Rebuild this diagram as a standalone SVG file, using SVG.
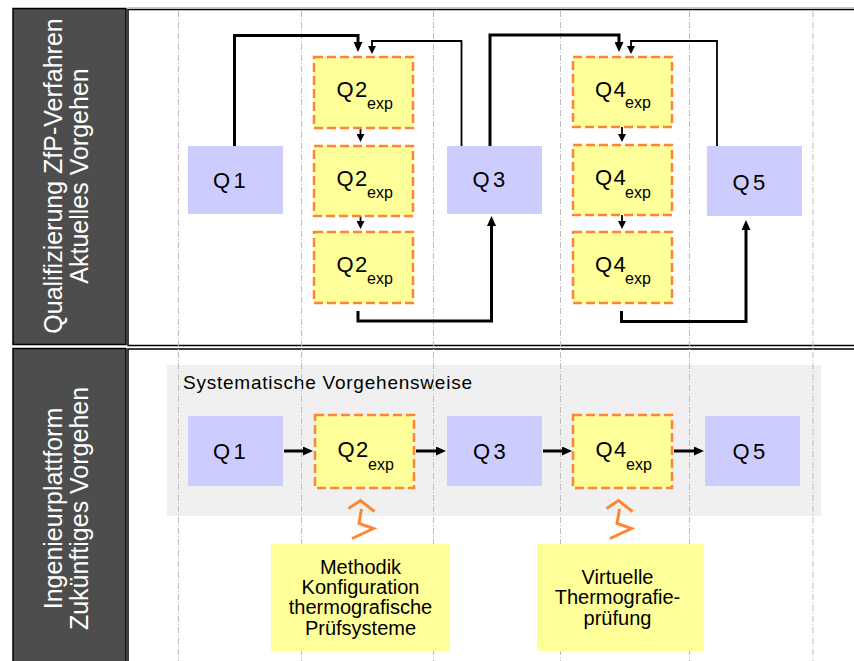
<svg xmlns="http://www.w3.org/2000/svg" width="854" height="661" viewBox="0 0 854 661">
<style>
text{font-family:"Liberation Sans",Arial,sans-serif;fill:#000}
.lab{fill:#fff;font-size:25px;text-anchor:middle}
.q{font-size:22px;letter-spacing:3.5px}
.qe{font-size:22px;letter-spacing:1.5px}
.e{font-size:16px}
.note{font-size:20px;text-anchor:middle}
.blue{fill:#ccccff}
.exp{fill:#ffff99;stroke:#ff8533;stroke-width:2.5;stroke-dasharray:9 4}
.yel{fill:#ffff99}
.grid{stroke:#bdbdbd;stroke-width:1;stroke-dasharray:6 2 1 2;fill:none}
.thick{stroke:#000;stroke-width:3;fill:none;marker-end:url(#ah)}
.thin{stroke:#000;stroke-width:1.8;fill:none;marker-end:url(#as)}
.bolt{stroke:#ff8533;stroke-width:3;fill:none}
</style>
<defs>
<marker id="ah" markerUnits="userSpaceOnUse" markerWidth="10" markerHeight="9" refX="3" refY="4.5" orient="auto"><path d="M0,0 L10,4.5 L0,9 z" fill="#000"/></marker>
<marker id="as" markerUnits="userSpaceOnUse" markerWidth="8" markerHeight="8" refX="2" refY="4" orient="auto"><path d="M0,0 L8,4 L0,8 z" fill="#000"/></marker>
</defs>
<rect x="0" y="0" width="854" height="661" fill="#fff"/>
<g id="panel-top">
<line x1="128" y1="7.5" x2="854" y2="7.5" stroke="#c8c8c8" stroke-width="1"/>
<rect x="128" y="9.5" width="740" height="336" fill="#fff" stroke="#000" stroke-width="1.5"/>
<rect x="13" y="8.5" width="113" height="336" fill="#4d4d4d" stroke="#000" stroke-width="1.5"/>
<text class="lab" transform="translate(61.5,176) rotate(-90)">Qualifizierung ZfP-Verfahren</text>
<text class="lab" transform="translate(87.5,176) rotate(-90)">Aktuelles Vorgehen</text>
</g>
<g id="panel-bottom">
<rect x="128" y="349" width="740" height="330" fill="#fff" stroke="#000" stroke-width="1.5"/>
<rect x="13" y="348.5" width="113" height="330" fill="#4d4d4d" stroke="#000" stroke-width="1.5"/>
<text class="lab" transform="translate(61.5,508.5) rotate(-90)">Ingenieurplattform</text>
<text class="lab" transform="translate(87.5,508.5) rotate(-90)">Zukünftiges Vorgehen</text>
</g>
<g id="systematic">
<rect x="167" y="365" width="654" height="151" fill="#f0f0f0"/>
<text x="183" y="388.5" font-size="19" textLength="289" lengthAdjust="spacing">Systematische Vorgehensweise</text>
</g>
<g id="gridlines">
<line class="grid" x1="178.5" y1="11" x2="178.5" y2="661"/>
<line class="grid" x1="301.5" y1="11" x2="301.5" y2="661"/>
<line class="grid" x1="433.5" y1="11" x2="433.5" y2="661"/>
<line class="grid" x1="560.5" y1="11" x2="560.5" y2="661"/>
<line class="grid" x1="689.5" y1="11" x2="689.5" y2="661"/>
<line class="grid" x1="813" y1="11" x2="813" y2="661"/>
</g>
<g id="connectors">
<path class="thick" d="M234.5,146 V35.5 H358 V45"/>
<path class="thin" d="M461.5,146 V41 H372 V48"/>
<path class="thick" d="M490,146 V35 H619 V45"/>
<path class="thin" d="M717,146 V41 H631 V48"/>
<path class="thin" d="M360.5,128 V136"/>
<path class="thin" d="M360.5,216 V223"/>
<path class="thin" d="M622,127 V136"/>
<path class="thin" d="M622,215 V223"/>
<path class="thick" d="M358,311 V321 H491.5 V223"/>
<path class="thick" d="M621.5,311 V321.5 H746 V227"/>
<path class="thick" d="M284,451 H306"/>
<path class="thick" d="M416,451 H439"/>
<path class="thick" d="M543,451 H565"/>
<path class="thick" d="M674,451 H697"/>
<path class="bolt" d="M348.5,508.5 L360.5,500.5 L374.5,511.5 M361.5,509 L359,523.5 L373.5,528.5 L352,538.5"/>
<path class="bolt" d="M606.5,508.5 L618.5,500.5 L632.5,511.5 M619.5,509 L617,523.5 L631.5,528.5 L610,538.5"/>
</g>
<g id="t-q1"><rect class="blue" x="188" y="146" width="95" height="68"/><text class="q" x="213" y="187.5">Q1</text></g>
<g id="t-q2a"><rect class="exp" x="314" y="57" width="99" height="71"/><text class="qe" x="336.5" y="97">Q2</text><text class="e" x="367" y="109">exp</text></g>
<g id="t-q2b"><rect class="exp" x="314" y="146" width="99" height="70"/><text class="qe" x="336.5" y="186">Q2</text><text class="e" x="367" y="197.5">exp</text></g>
<g id="t-q2c"><rect class="exp" x="314" y="232" width="99" height="71"/><text class="qe" x="336.5" y="272">Q2</text><text class="e" x="367" y="283.5">exp</text></g>
<g id="t-q3"><rect class="blue" x="447" y="146" width="95" height="68"/><text class="q" x="472.5" y="187">Q3</text></g>
<g id="t-q4a"><rect class="exp" x="573" y="57" width="99" height="70"/><text class="qe" x="595" y="96.5">Q4</text><text class="e" x="625" y="108">exp</text></g>
<g id="t-q4b"><rect class="exp" x="573" y="145" width="99" height="70"/><text class="qe" x="595" y="185">Q4</text><text class="e" x="625" y="197.5">exp</text></g>
<g id="t-q4c"><rect class="exp" x="573" y="232" width="99" height="71"/><text class="qe" x="595" y="272">Q4</text><text class="e" x="625" y="283.5">exp</text></g>
<g id="t-q5"><rect class="blue" x="707" y="146" width="95" height="70"/><text class="q" x="732.5" y="189.5">Q5</text></g>
<g id="b-q1"><rect class="blue" x="188" y="416" width="95" height="70"/><text class="q" x="213" y="458.5">Q1</text></g>
<g id="b-q2"><rect class="exp" x="315" y="415" width="99" height="73"/><text class="qe" x="337.5" y="456.5">Q2</text><text class="e" x="368" y="470">exp</text></g>
<g id="b-q3"><rect class="blue" x="447" y="416" width="95" height="70"/><text class="q" x="473" y="458.5">Q3</text></g>
<g id="b-q4"><rect class="exp" x="573" y="415" width="99" height="73"/><text class="qe" x="595.5" y="456.5">Q4</text><text class="e" x="626" y="470">exp</text></g>
<g id="b-q5"><rect class="blue" x="705" y="416" width="95" height="70"/><text class="q" x="732.5" y="459">Q5</text></g>
<g id="note-methodik"><rect class="yel" x="271" y="544" width="179" height="107"/>
<text class="note" x="360.5" y="573.5">Methodik</text>
<text class="note" x="360.5" y="594">Konfiguration</text>
<text class="note" x="360.5" y="614">thermografische</text>
<text class="note" x="360.5" y="634.5">Prüfsysteme</text></g>
<g id="note-virtuell"><rect class="yel" x="537" y="544" width="167" height="107"/>
<text class="note" x="617.5" y="583.5">Virtuelle</text>
<text class="note" x="617.5" y="604">Thermografie-</text>
<text class="note" x="617.5" y="624.5">prüfung</text></g>
</svg>
